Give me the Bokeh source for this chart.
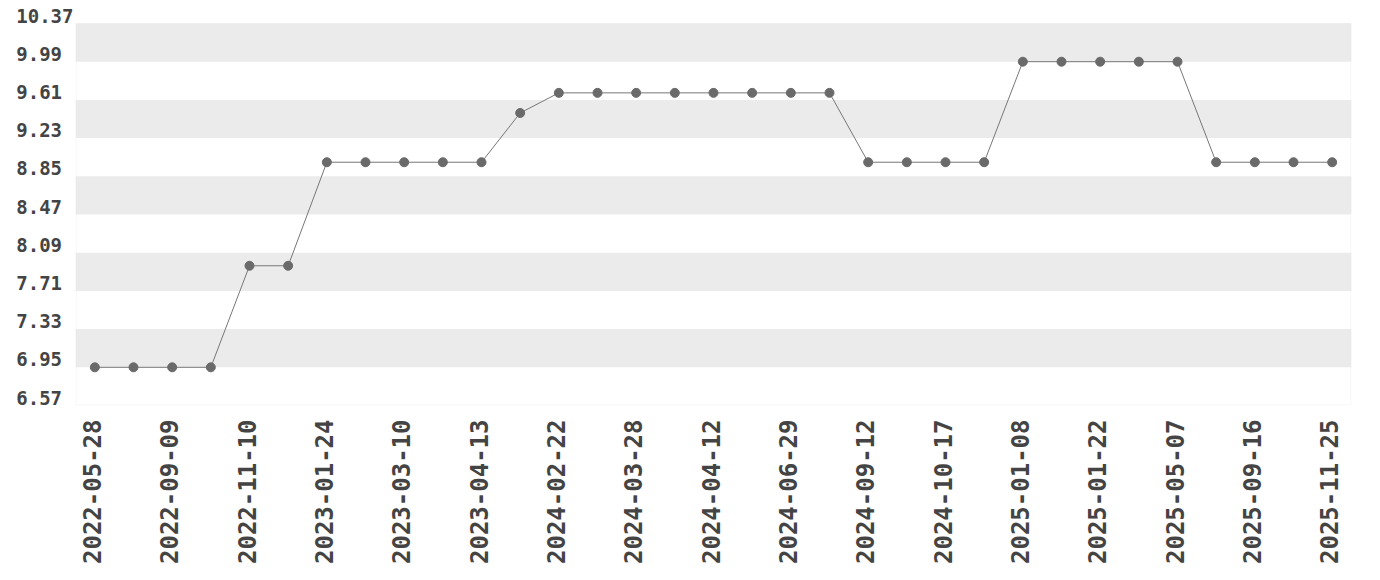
import math
from bokeh.plotting import figure
from bokeh.models import FixedTicker, Range1d, LinearAxis, BoxAnnotation
from bokeh.embed import file_html
from bokeh.resources import INLINE

values = [6.95, 6.95, 6.95, 6.95, 7.96, 7.96, 8.99, 8.99, 8.99, 8.99, 8.99,
          9.48, 9.68, 9.68, 9.68, 9.68, 9.68, 9.68, 9.68, 9.68,
          8.99, 8.99, 8.99, 8.99, 9.99, 9.99, 9.99, 9.99, 9.99,
          8.99, 8.99, 8.99, 8.99]
tick_labels = ["2022-05-28", "2022-09-09", "2022-11-10", "2023-01-24", "2023-03-10",
               "2023-04-13", "2024-02-22", "2024-03-28", "2024-04-12", "2024-06-29",
               "2024-09-12", "2024-10-17", "2025-01-08", "2025-01-22", "2025-05-07",
               "2025-09-16", "2025-11-25"]
y_ticks = [6.57, 6.95, 7.33, 7.71, 8.09, 8.47, 8.85, 9.23, 9.61, 9.99, 10.37]

xs = list(range(len(values)))
x_ticks = xs[::2]

FRAME_W, PLOT_H, LIFT = 1276, 382, 8
x0, x1 = -0.5, len(values) - 0.5
y0, y1 = y_ticks[0], y_ticks[-1]
px_x = (x1 - x0) / FRAME_W
px_y = (y1 - y0) / PLOT_H
d = LIFT * px_y   # extra headroom so the top tick label can sit above its tick

p = figure(frame_width=FRAME_W, frame_height=PLOT_H + LIFT, output_backend="svg",
           toolbar_location=None, min_border_left=75, min_border_right=20,
           min_border_top=15, min_border_bottom=6,
           x_range=Range1d(x0, x1), y_range=Range1d(y0, y1 + d))

p.outline_line_color = None
p.background_fill_color = "white"
# plot-area border (inset half a pixel so it is not clipped by the frame)
p.add_layout(BoxAnnotation(left=x0 + 0.5 * px_x, right=x1 - 0.5 * px_x,
                           bottom=y0 + 0.5 * px_y, top=y1,
                           fill_color=None, fill_alpha=0, line_color="#dddddd",
                           line_width=1, level="overlay"))

p.line(xs, values, line_color="#777777", line_width=1)
p.scatter(xs, values, size=9, fill_color="#6a6a6a", line_color="#6a6a6a")

font = "DejaVu Sans Mono"
TXT = "#444444"

# x axis: labels nudged 3px left of their points
xshift = 3 * px_x
p.xaxis[0].visible = False
p.extra_x_ranges = {"xlab": Range1d(x0 + xshift, x1 + xshift)}
xa = LinearAxis(x_range_name="xlab")
xa.ticker = FixedTicker(ticks=x_ticks)
xa.major_label_overrides = {t: l for t, l in zip(x_ticks, tick_labels)}
xa.major_label_orientation = math.pi / 2
xa.major_label_text_font = font
xa.major_label_text_font_style = "bold"
xa.major_label_text_font_size = "24px"
xa.major_label_text_color = TXT
xa.axis_line_color = None
xa.major_tick_line_color = None
xa.minor_tick_line_color = None
xa.major_tick_out = 0
xa.major_label_standoff = 14
p.add_layout(xa, "below")

# y axis: default one drives grid bands (hidden); label axis lifted by LIFT px
ya0 = p.yaxis[0]
ya0.ticker = FixedTicker(ticks=y_ticks)
ya0.visible = False

p.extra_y_ranges = {"ylab": Range1d(y0 - d, y1)}
ya = LinearAxis(y_range_name="ylab")
ya.ticker = FixedTicker(ticks=y_ticks)
maxlen = max(len(f"{t:.2f}") for t in y_ticks)
ya.major_label_overrides = {t: f"{t:.2f}".ljust(maxlen, "\u00a0") for t in y_ticks}
ya.major_label_text_font = font
ya.major_label_text_font_style = "bold"
ya.major_label_text_font_size = "19px"
ya.major_label_text_color = TXT
ya.axis_line_color = None
ya.major_tick_line_color = None
ya.minor_tick_line_color = None
ya.major_tick_out = 0
ya.major_label_standoff = 2
p.add_layout(ya, "left")

p.xgrid.grid_line_color = None
p.ygrid.grid_line_color = None
p.ygrid.band_fill_color = "#ebebeb"
p.ygrid.band_fill_alpha = 1.0

open("out.html", "w").write(file_html(p, INLINE))
